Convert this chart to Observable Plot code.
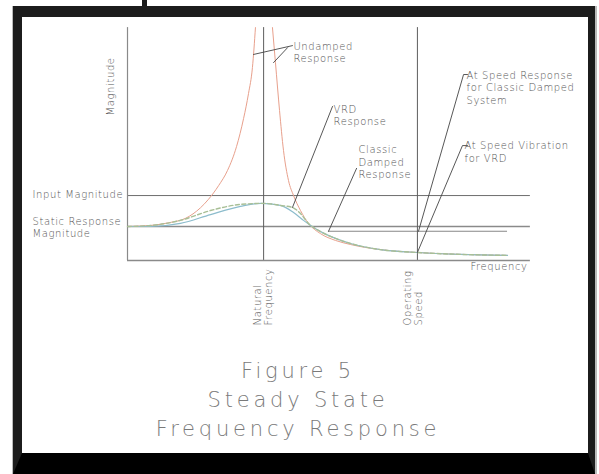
<!DOCTYPE html>
<html>
<head>
<meta charset="utf-8">
<script src="https://cdn.jsdelivr.net/npm/d3@7"></script>
<script src="https://cdn.jsdelivr.net/npm/@observablehq/plot@0.6"></script>
<style>
  html, body { margin: 0; padding: 0; background: #fff; }
  body { width: 599px; height: 474px; position: relative; overflow: hidden; }
  #tick { position: absolute; left: 142px; top: 0; width: 5px; height: 6px; background: #1a1a1a; }
  #frame {
    position: absolute; left: 13px; top: 6px; width: 566px; height: 436px;
    border-left: 9px solid #1c1c1c; border-top: 11px solid #1c1c1c;
    border-right: 7px solid #1c1c1c; border-bottom: 21px solid #000;
    background: #fff; box-shadow: -1px 0 0 #bbb, 2px 0 0 #bbb;
  }
  #title {
    width: 552px; padding-right: 14px; padding-top: 12px; text-align: center;
    font-family: "DejaVu Sans", sans-serif; font-weight: 200; color: #7a7a7a;
    font-size: 21px; line-height: 29px; letter-spacing: 3.8px;
  }
</style>
</head>
<body>
<div id="tick"></div>
<div id="frame"><div id="chart"></div><div id="title">Figure 5<br>Steady State<br>Frequency Response</div></div>
<script>
// ---- values (frequency ratio, magnitude ratio) ----
const undampedLeftFreq = [0, 0.169, 0.316, 0.426, 0.536, 0.595, 0.669, 0.735, 0.801, 0.853, 0.889, 0.918, 0.940];
const undampedLeftMag  = [1.00, 1.03, 1.12, 1.24, 1.55, 1.80, 2.20, 2.65, 3.35, 4.18, 4.91, 5.68, 6.85];
const undampedRightFreq = [1.065, 1.087, 1.117, 1.146, 1.183, 1.220, 1.271, 1.330, 1.418, 1.528, 1.639, 1.859, 2.131, 2.447, 2.792];
const undampedRightMag  = [6.85, 5.82, 4.41, 3.24, 2.35, 1.91, 1.47, 1.09, 0.79, 0.59, 0.47, 0.32, 0.235, 0.18, 0.15];
const classicFreq = [0, 0.169, 0.389, 0.610, 0.830, 1.0, 1.124, 1.212, 1.271, 1.330, 1.418, 1.528, 1.639, 1.859, 2.131, 2.447, 2.792];
const classicMag  = [1.00, 1.03, 1.18, 1.47, 1.65, 1.68, 1.62, 1.56, 1.38, 1.09, 0.85, 0.65, 0.50, 0.32, 0.235, 0.18, 0.15];
const vrdFreq = [0, 0.169, 0.389, 0.610, 0.830, 0.977, 1.124, 1.220, 1.293, 1.345, 1.433, 1.528, 1.639, 1.859, 2.131, 2.447, 2.792];
const vrdMag  = [1.00, 1.00, 1.09, 1.35, 1.59, 1.68, 1.62, 1.41, 1.18, 1.03, 0.82, 0.65, 0.50, 0.32, 0.235, 0.18, 0.15];

const naturalFrequency = 1.0;
const operatingSpeed = 2.13;
const inputMagnitude = 1.91;
const staticMagnitude = 1.0;
const classicAtSpeed = 0.86;
const vrdAtSpeed = 0.235;
const freqMax = 2.96;
const magMax = 6.85;
const classicLineStart = 1.477;
const classicLineEnd = 2.792;

// ---- annotation anchors (data units) ----
const labels = [
  {text: "Undamped\nResponse", r: 1.219, m: 6.13},
  {text: "VRD\nResponse", r: 1.514, m: 4.28},
  {text: "Classic\nDamped\nResponse", r: 1.697, m: 2.90},
  {text: "At Speed Response\nfor Classic Damped\nSystem", r: 2.491, m: 5.09},
  {text: "At Speed Vibration\nfor VRD", r: 2.476, m: 3.21},
  {text: "Input Magnitude", r: -0.698, m: 1.97},
  {text: "Static Response\nMagnitude", r: -0.698, m: 0.985},
  {text: "Frequency", r: 2.52, m: -0.15}
];
const axisTitle = [{text: "Magnitude", r: -0.125, m: 5.12}];
const markerLabels = [
  {text: "Natural\nFrequency", r: 0.996, m: -1.91},
  {text: "Operating\nSpeed", r: 2.10, m: -1.91}
];
const leaders = [
  {id: 1, r: [1.212, 0.926], m: [6.32, 6.06]},
  {id: 2, r: [1.176, 1.073], m: [6.26, 5.82]},
  {id: 3, r: [1.506, 1.212], m: [4.53, 1.56]},
  {id: 4, r: [1.683, classicLineStart], m: [2.71, classicAtSpeed]},
  {id: 5, r: [2.498, 2.469, operatingSpeed + 0.008], m: [5.47, 5.47, classicAtSpeed]},
  {id: 6, r: [2.498, 2.461, operatingSpeed], m: [3.38, 3.38, vrdAtSpeed]}
];

// ---- build tables ----
const toRows = (fs, ms, name) => fs.map((r, i) => ({r, m: ms[i], name}));
const undamped = [...toRows(undampedLeftFreq, undampedLeftMag, "L"), ...toRows(undampedRightFreq, undampedRightMag, "R")];
const classic = toRows(classicFreq, classicMag, "classic");
const vrd = toRows(vrdFreq, vrdMag, "vrd");
const leaderRows = leaders.flatMap(l => l.r.map((r, i) => ({id: l.id, r, m: l.m[i]})));

const font = "DejaVu Sans, sans-serif";
const textColor = "#555";
const lineColor = "#6e6e6e";
const txt = {x: "r", y: "m", text: "text", fontSize: 10, fontWeight: 200, fill: textColor};

const chart = Plot.plot({
  width: 566,
  height: 328,
  margin: 0,
  x: {domain: [-0.7715, 3.387], axis: null},
  y: {domain: [-2.5, 7.147], axis: null},
  style: {background: "white", fontFamily: font, letterSpacing: "0.6px", overflow: "visible"},
  marks: [
    // reference lines
    Plot.ruleY([inputMagnitude], {x1: 0, x2: freqMax, stroke: lineColor, strokeWidth: 1}),
    Plot.ruleY([staticMagnitude], {x1: 0, x2: freqMax, stroke: "#8a8a8a", strokeWidth: 1.6}),
    Plot.ruleY([classicAtSpeed], {x1: classicLineStart, x2: classicLineEnd, stroke: "#7a7a7a", strokeWidth: 0.9}),
    Plot.ruleX([naturalFrequency, operatingSpeed], {y1: 0, y2: magMax, stroke: "#5e5e5e", strokeWidth: 1}),
    // axes
    Plot.ruleX([0], {y1: 0, y2: magMax, stroke: "#8a8a8a", strokeWidth: 1.2}),
    Plot.ruleY([0], {x1: 0, x2: freqMax, stroke: "#8a8a8a", strokeWidth: 1.4}),
    // curves
    Plot.line(undamped, {x: "r", y: "m", z: "name", stroke: "#e8a08c", strokeWidth: 1, curve: "monotone-x"}),
    Plot.line(vrd, {x: "r", y: "m", stroke: "#8cbccc", strokeWidth: 1.2, curve: "monotone-x"}),
    Plot.line(classic, {x: "r", y: "m", stroke: "#a8bf96", strokeWidth: 1.4, strokeDasharray: "4,2.5", curve: "monotone-x"}),
    // leaders
    Plot.line(leaderRows, {x: "r", y: "m", z: "id", stroke: "#444", strokeWidth: 0.9}),
    // labels
    Plot.text(labels, {...txt, textAnchor: "start", lineAnchor: "middle", lineHeight: 1.25}),
    Plot.text(axisTitle, {...txt, textAnchor: "middle", rotate: -90}),
    Plot.text(markerLabels, {...txt, textAnchor: "start", rotate: -90, lineAnchor: "middle", lineHeight: 1.1})
  ]
});
document.getElementById("chart").appendChild(chart);
</script>
</body>
</html>
